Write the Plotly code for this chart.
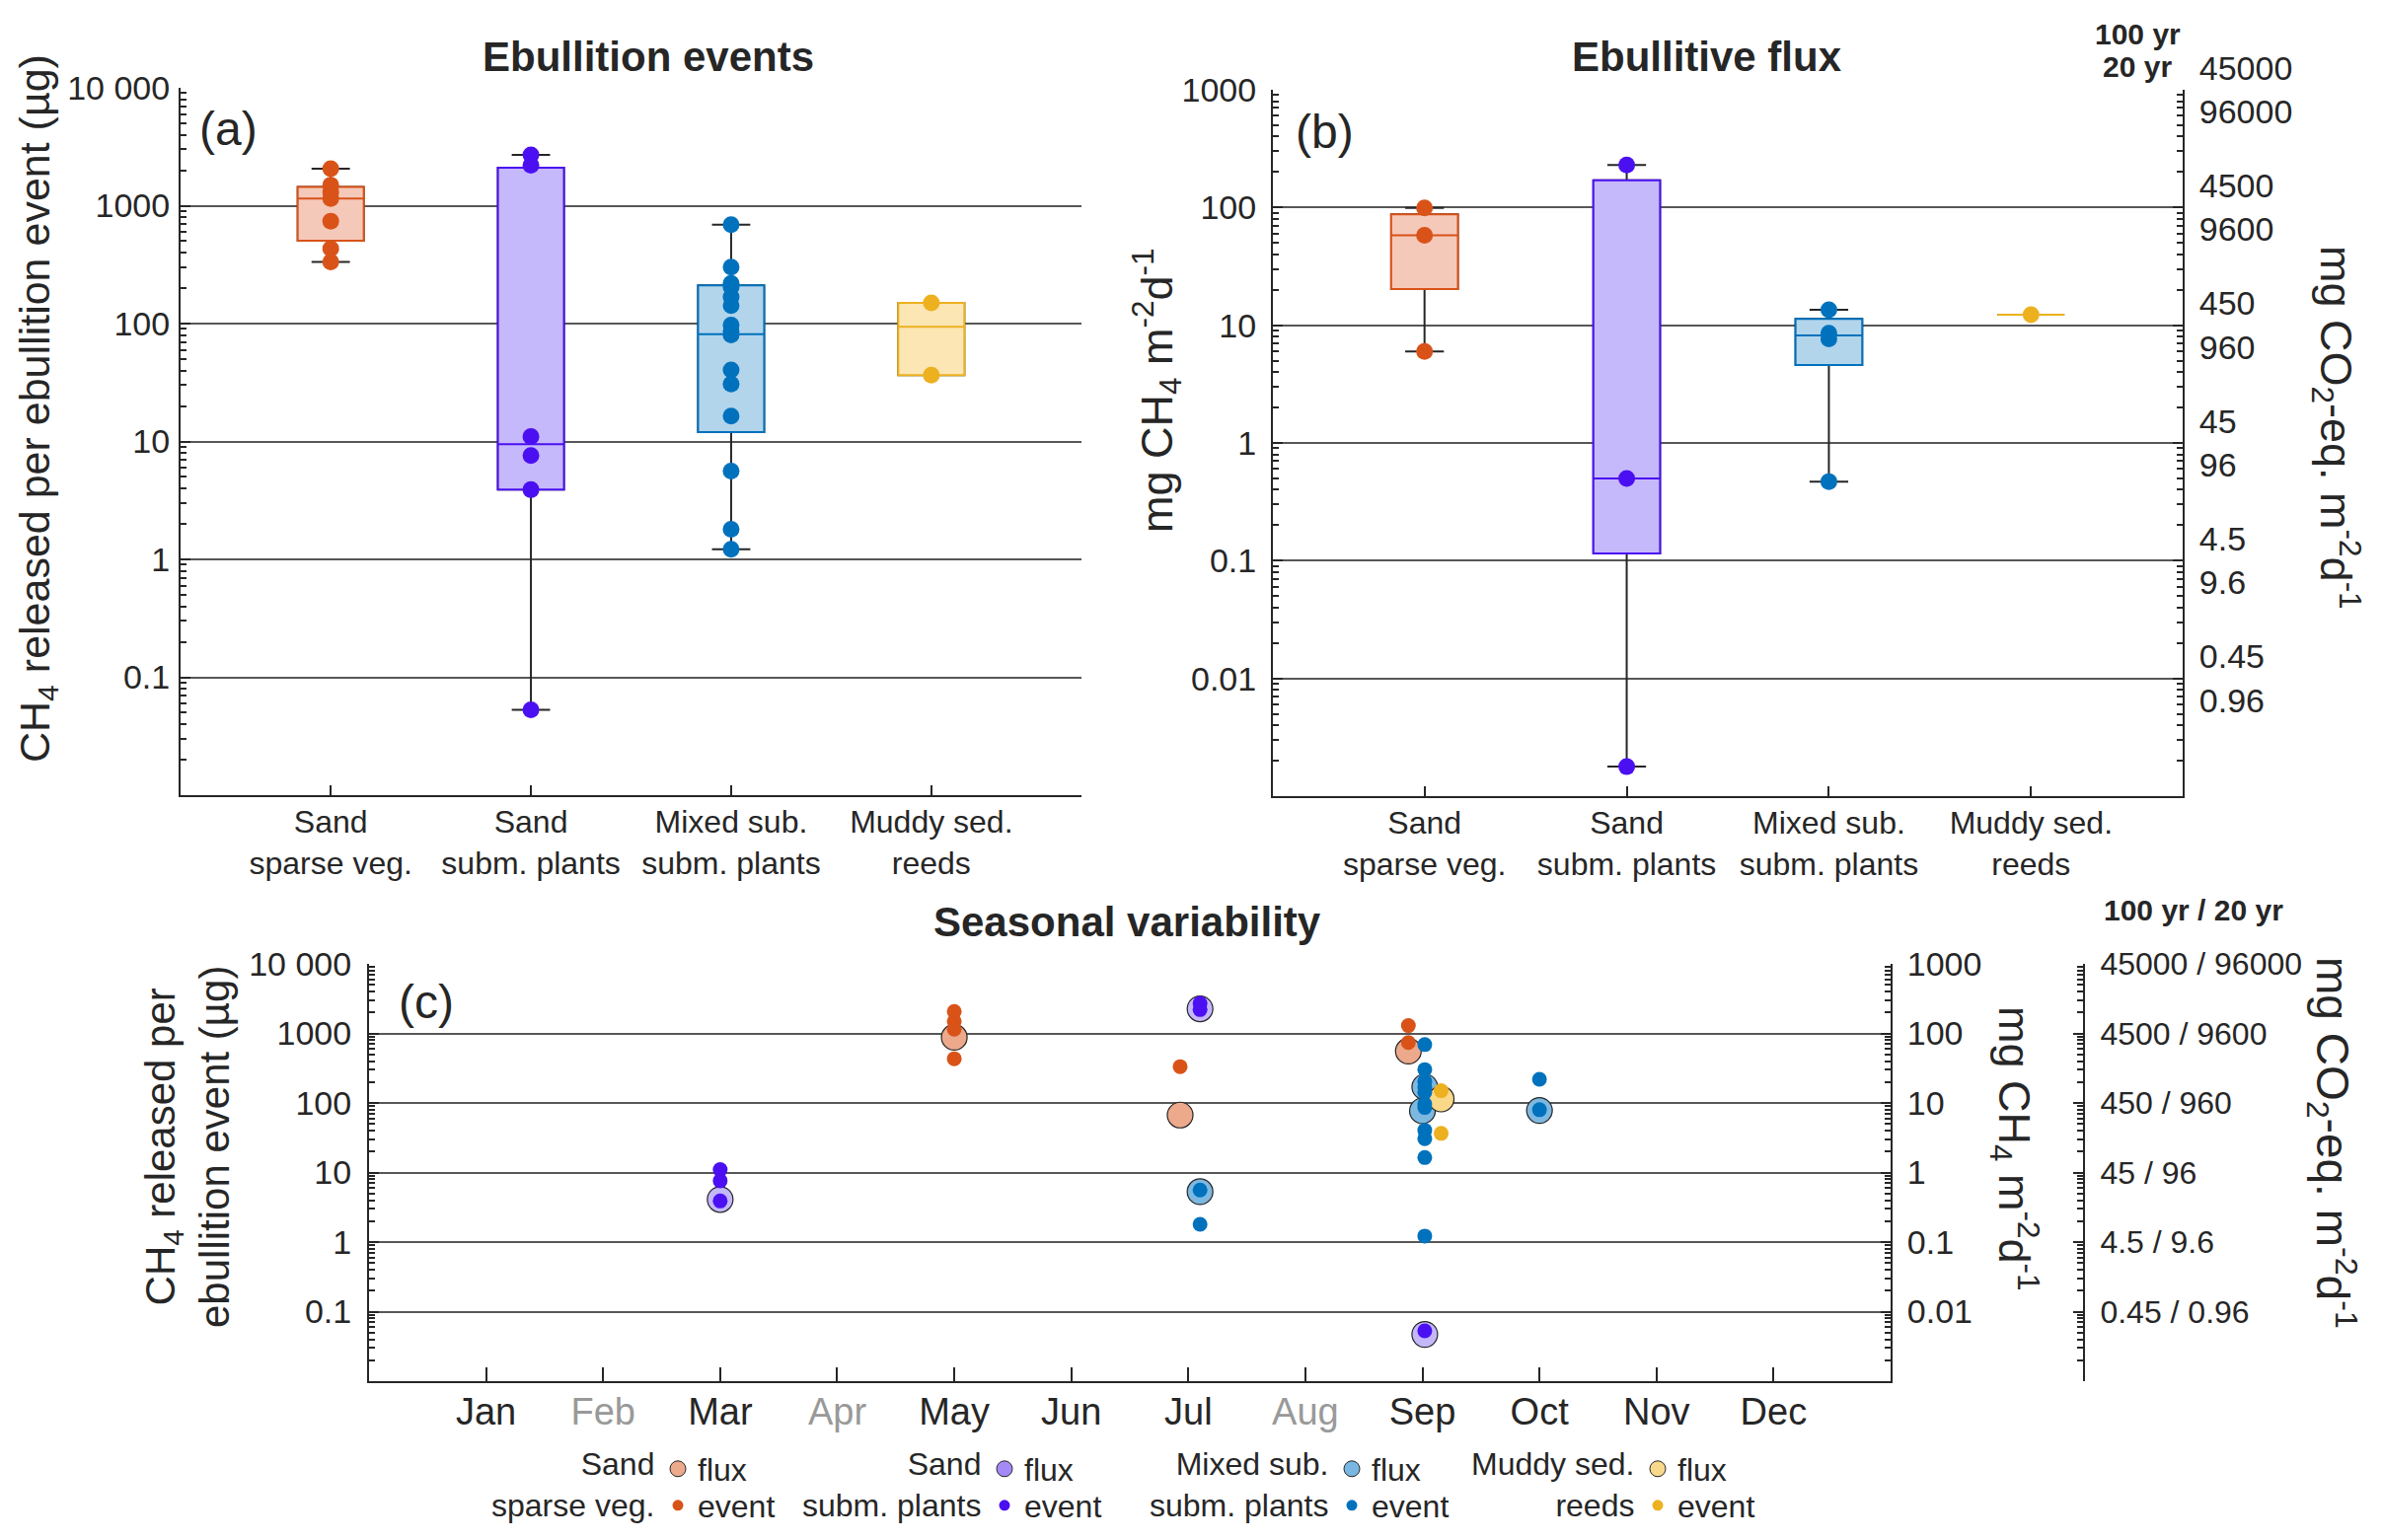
import plotly.graph_objects as go

W, H = 2414, 1561
FONT = "Liberation Sans, Arial, sans-serif"
INK = "#262626"

site_line1 = ["Sand", "Sand", "Mixed sub.", "Muddy sed."]
site_line2 = ["sparse veg.", "subm. plants", "subm. plants", "reeds"]
site_pos = [1, 2, 3, 4]

edge_colors = ["#d95319", "#4b10f2", "#0072bd", "#edb120"]
box_fills = ["#f5c9b9", "#c5b8fb", "#b2d5ec", "#fbe6b4"]
flux_fills = ["#eca98b", "#c4b7fa", "#7db8e1", "#f9d889"]
legend_flux_fills = ["#eca98b", "#a48af6", "#7ab6e2", "#f8d88a"]

# CH4 per ebullition event (µg) and sampling time (month number)
event_month = [
    [5, 5, 5, 5, 6.93, 8.88, 8.88],
    [3, 3, 3, 7.1, 7.1, 9.02],
    [7.1, 7.1, 9.02, 9.02, 9.02, 9.02, 9.02, 9.02, 9.02, 9.02, 9.02, 9.02, 9.02, 10.0, 10.0],
    [9.16, 9.16],
]
event_ug = [
    [2060, 1495, 1150, 433, 333, 1295, 740],
    [11.0, 7.6, 3.9, 2700, 2200, 0.053],
    [5.6, 1.8, 690, 302, 204, 168, 142, 97, 86, 40.5, 30.7, 16.4, 1.22, 219, 80],
    [150, 36.5],
]

# panel (a) box statistics (µg)
ev_q1 = [505, 3.9, 12.0, 36.5]
ev_med = [1150, 9.5, 81.4, 94]
ev_q3 = [1443, 2102, 211, 150]
ev_lo = [333, 0.053, 1.22, 36.5]
ev_hi = [2060, 2700, 690, 150]

# panel (b) ebullitive flux per site (mg CH4 m-2 d-1)
flux_site = [
    [99, 58, 6.0],
    [230, 0.5, 0.00178],
    [13.5, 8.57, 7.67, 0.47],
    [12.3],
]
fx_q1 = [20.3, 0.115, 4.6, 12.3]
fx_med = [58, 0.5, 8.2, 12.3]
fx_q3 = [87.5, 170, 11.3, 12.3]
fx_lo = [6.0, 0.00178, 0.47, 12.3]
fx_hi = [99, 230, 13.5, 12.3]

# panel (c) flux per sampling date (mg CH4 m-2 d-1)
flux_month = [[5, 6.93, 8.88], [3, 7.1, 9.02], [7.1, 9.02, 9.0, 10.0], [9.16]]
flux_seasonal = [[88, 6.7, 55.6], [0.41, 226, 0.0047], [0.53, 17, 7.7, 7.8], [11.4]]

months = ["Jan", "Feb", "Mar", "Apr", "May", "Jun", "Jul", "Aug", "Sep", "Oct", "Nov", "Dec"]
grey_months = ["Feb", "Apr", "Aug"]

ev_ticks = [0.1, 1, 10, 100, 1000, 10000]
ev_ticktext = ["0.1", "1", "10", "100", "1000", "10 000"]
fx_ticks = [0.01, 0.1, 1, 10, 100, 1000]
fx_ticktext = ["0.01", "0.1", "1", "10", "100", "1000"]
gwp100 = ["0.45", "4.5", "45", "450", "4500", "45000"]
gwp20 = ["0.96", "9.6", "96", "960", "9600", "96000"]

minor_vals = [m * 10.0 ** e for e in range(-4, 5) for m in range(2, 10)]


def px(x):
    return x / W


def py(y):
    return 1 - y / H


fig = go.Figure()

# (a) and (b) boxes
for panel, xa, ya in [("a", "x", "y"), ("b", "x2", "y2")]:
    if panel == "a":
        q1, med, q3, lo, hi, pts = ev_q1, ev_med, ev_q3, ev_lo, ev_hi, event_ug
    else:
        q1, med, q3, lo, hi, pts = fx_q1, fx_med, fx_q3, fx_lo, fx_hi, flux_site
    for i in range(4):
        fig.add_trace(go.Box(
            x=[site_pos[i]], q1=[q1[i]], median=[med[i]], q3=[q3[i]],
            lowerfence=[lo[i]], upperfence=[hi[i]], width=0.33, whiskerwidth=0.58,
            line=dict(color=INK, width=2), fillcolor="rgba(0,0,0,0)",
            boxpoints=False, hoverinfo="skip", showlegend=False, xaxis=xa, yaxis=ya))
        fig.add_trace(go.Box(
            x=[site_pos[i]], q1=[q1[i]], median=[med[i]], q3=[q3[i]],
            lowerfence=[q1[i]], upperfence=[q3[i]], width=0.33, whiskerwidth=0.58,
            line=dict(color=edge_colors[i], width=2), fillcolor=box_fills[i],
            boxpoints=False, hoverinfo="skip", showlegend=False, xaxis=xa, yaxis=ya))
        fig.add_trace(go.Scatter(
            x=[site_pos[i]] * len(pts[i]), y=pts[i], mode="markers",
            marker=dict(size=17, color=edge_colors[i]),
            showlegend=False, xaxis=xa, yaxis=ya))

fig.add_trace(go.Scatter(x=[None], y=[None], showlegend=False, xaxis="x2", yaxis="y3"))

# (c) seasonal: flux circles on the flux axis, events on top of them
for i in range(4):
    fig.add_trace(go.Scatter(
        x=flux_month[i], y=flux_seasonal[i], mode="markers",
        marker=dict(size=26, color=flux_fills[i], line=dict(color=INK, width=1.2)),
        showlegend=False, xaxis="x3", yaxis="y5"))
for i in range(4):
    fig.add_trace(go.Scatter(
        x=event_month[i], y=event_ug[i], mode="markers",
        marker=dict(size=15, color=edge_colors[i]),
        showlegend=False, xaxis="x3", yaxis="y7"))
fig.add_trace(go.Scatter(x=[None], y=[None], showlegend=False, xaxis="x3", yaxis="y6"))

# legend entries (one small legend per entry)
leg_glyph_x = [687, 1018, 1370, 1680]
leg_row_y = [1489, 1526]
for i in range(4):
    for r, name in enumerate(["flux", "event"]):
        k = 2 * i + r + 1
        lname = "legend" if k == 1 else f"legend{k}"
        if r == 0:
            mk = dict(size=22, color=legend_flux_fills[i], line=dict(color=INK, width=1))
        else:
            mk = dict(size=11, color=edge_colors[i])
        fig.add_trace(go.Scatter(x=[None], y=[None], mode="markers", name=name, marker=mk,
                                 legend=lname, xaxis="x3", yaxis="y4"))
        fig.update_layout(**{lname: dict(
            x=px(leg_glyph_x[i] - 20), y=py(leg_row_y[r]), xanchor="left", yanchor="middle",
            bgcolor="rgba(0,0,0,0)", borderwidth=0, font=dict(size=32, color=INK, family=FONT),
            itemsizing="trace")})

log_common = dict(
    type="log", showline=True, linecolor=INK, linewidth=2, ticks="inside", ticklen=10,
    tickwidth=1.5, tickcolor=INK,
    minor=dict(tickmode="array", tickvals=minor_vals, ticks="inside", ticklen=6,
               tickcolor=INK, showgrid=False),
    zeroline=False,
)
grid = dict(showgrid=True, gridcolor="#575757", gridwidth=1.5)
cat_x = dict(
    range=[0.25, 4.75], tickmode="array", tickvals=site_pos,
    ticktext=[f"{a}<br>{b}" for a, b in zip(site_line1, site_line2)],
    tickfont=dict(size=32, color=INK), ticklabelstandoff=-2,
    showline=True, linecolor=INK, linewidth=2, ticks="inside", ticklen=10, tickwidth=1.5,
    tickcolor=INK, showgrid=False, zeroline=False,
)
tf = dict(size=34, color=INK)

month_text = [f'<span style="color:#999999">{m}</span>' if m in grey_months else m for m in months]

fig.update_layout(
    width=W, height=H, margin=dict(l=0, r=0, t=0, b=0, autoexpand=False), autosize=False,
    paper_bgcolor="white", plot_bgcolor="white",
    font=dict(family=FONT, color=INK, size=34),
    xaxis=dict(domain=[px(183), px(1096)], anchor="y", **cat_x),
    yaxis=dict(domain=[py(806), py(89)], anchor="x", range=[-2, 4], tickmode="array",
               tickvals=ev_ticks, ticktext=ev_ticktext, ticklabelstandoff=2, tickfont=tf,
               **grid, **log_common),
    xaxis2=dict(domain=[px(1290), px(2212)], anchor="y2", **cat_x),
    yaxis2=dict(domain=[py(807), py(91)], anchor="x2", range=[-3, 3], tickmode="array",
                tickvals=fx_ticks, ticktext=fx_ticktext, ticklabelstandoff=8, tickfont=tf,
                **grid, **log_common),
    yaxis3=dict(overlaying="y2", anchor="x2", side="right", range=[-3, 3], tickmode="array",
                tickvals=fx_ticks, ticktext=[f"{a}<br>{b}" for a, b in zip(gwp100, gwp20)],
                ticklabelstandoff=8, tickfont=tf, showgrid=False, **log_common),
    xaxis3=dict(domain=[px(374), px(1916)], anchor="y4", range=[0, 13], tickmode="array",
                tickvals=list(range(1, 13)), ticktext=month_text, showline=True, linecolor=INK,
                linewidth=2, ticks="inside", ticklen=14, tickwidth=1.5, tickcolor=INK,
                tickfont=dict(size=38, color=INK), ticklabelstandoff=-4, showgrid=False,
                zeroline=False),
    yaxis4=dict(domain=[py(1400), py(977)], anchor="x3", range=[-2, 4], tickmode="array",
                tickvals=ev_ticks, ticktext=ev_ticktext, ticklabelstandoff=9, tickfont=tf,
                **grid, **log_common),
    yaxis5=dict(overlaying="y4", anchor="x3", side="right", range=[-3, 3], tickmode="array",
                tickvals=fx_ticks, ticktext=fx_ticktext, ticklabelstandoff=8, tickfont=tf,
                showgrid=False, **log_common),
    yaxis6=dict(overlaying="y4", anchor="free", position=px(2112), side="right", range=[-3, 3],
                tickmode="array", tickvals=fx_ticks,
                ticktext=[f"{a} / {b}" for a, b in zip(gwp100, gwp20)],
                ticklabelstandoff=9, tickfont=dict(size=32, color=INK), showgrid=False,
                **log_common),
    yaxis7=dict(overlaying="y4", anchor="x3", type="log", range=[-2, 4], visible=False),
)

ann = []


def text(x, y, s, size=34, bold=False, angle=0, xanchor="center", yanchor="middle",
         align="center"):
    if bold:
        s = f"<b>{s}</b>"
    ann.append(dict(x=x, y=y, xref="paper", yref="paper", text=s, showarrow=False,
                    textangle=angle, xanchor=xanchor, yanchor=yanchor, align=align,
                    font=dict(size=size, color=INK, family=FONT)))


text(px(657), py(57), "Ebullition events", 42, bold=True)
text(px(1730), py(57), "Ebullitive flux", 42, bold=True)
text(px(1142), py(934), "Seasonal variability", 42, bold=True)
text(px(200), py(131), "(a)", 48, xanchor="left")
text(px(1311), py(133), "(b)", 48, xanchor="left")
text(px(402), py(1015), "(c)", 48, xanchor="left")

text(px(38), py(414), "CH<sub>4</sub> released per ebullition event (µg)", 43, angle=-90)
text(px(1172), py(396), "mg CH<sub>4</sub> m<sup>-2</sup>d<sup>-1</sup>", 45, angle=-90)
text(px(2368), py(433), "mg CO<sub>2</sub>-eq. m<sup>-2</sup>d<sup>-1</sup>", 45, angle=90)
text(px(2166), py(35), "100 yr", 30, bold=True)
text(px(2166), py(68), "20 yr", 30, bold=True)

text(px(190), py(1163), "CH<sub>4</sub> released per<br>ebullition event (µg)", 42, angle=-90)
text(px(2042), py(1164), "mg CH<sub>4</sub> m<sup>-2</sup>d<sup>-1</sup>", 45, angle=90)
text(px(2364), py(1158), "mg CO<sub>2</sub>-eq. m<sup>-2</sup>d<sup>-1</sup>", 46, angle=90)
text(px(2223), py(922), "100 yr / 20 yr", 30, bold=True)

for i in range(4):
    text(px(leg_glyph_x[i] - 22), py(1505), f"{site_line1[i]}<br>{site_line2[i]}", 32,
         xanchor="right", align="right")

fig.update_layout(annotations=ann)

fig.write_html("out.html", config={"displayModeBar": False},
               post_script="document.body.style.margin='0';")
